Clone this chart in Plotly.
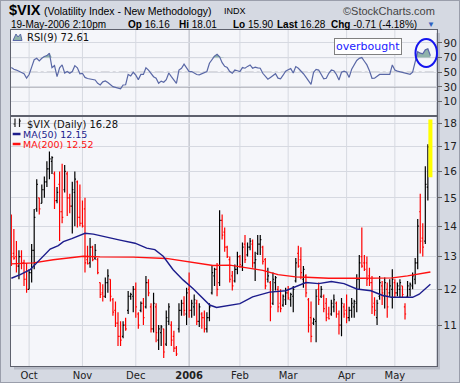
import numpy as np
import plotly.graph_objects as go

W, H = 460, 383
def px(v): return v / W
def py(v): return 1 - v / H

# ---------------- data ----------------
month_pos = [7, 28, 49, 70, 90, 109, 132, 151]
month_labels = ["Oct", "Nov", "Dec", "<b>2006</b>", "Feb", "Mar", "Apr", "May"]
price_ticks = [11, 12, 13, 14, 15, 16, 17, 18]
rsi_ticks = [10, 30, 50, 70, 90]

prior_close = 14.2
opens = [14.1, 13.1, 13.0, 12.7, 13.0, 12.8, 12.3, 12.0, 12.5, 13.2,
         14.6, 15.0, 14.8, 15.3, 15.6, 16.1, 16.4, 15.9, 14.9, 15.5,
         14.5, 15.3, 15.9, 15.0, 14.7, 15.2, 15.6, 14.3, 14.1, 14.6,
         12.9, 12.8, 13.3, 12.95, 12.9, 12.2, 11.9, 11.8, 12.2, 12.3,
         11.7, 11.4, 11.05, 10.7, 10.7, 11.0, 11.4, 11.8, 11.8, 12.0,
         11.3, 11.4, 11.6, 11.5, 12.2, 11.5, 10.9, 11.5, 10.6, 10.8,
         10.9, 10.5, 11.1, 11.0, 10.7, 10.4, 10.9, 11.4, 11.6, 11.3,
         12.0, 11.4, 11.5, 11.6, 11.1, 11.3, 11.2, 10.9, 11.2, 11.9,
         12.4, 12.6, 12.2, 14.2, 13.8, 13.3, 12.9, 12.4, 12.25, 12.6,
         13.0, 12.7, 13.4, 13.05, 13.3, 13.4, 12.8, 13.1, 13.4, 13.3,
         12.9, 12.3, 12.2, 11.6, 12.2, 12.0, 11.6, 11.55, 11.7, 11.9,
         11.7, 11.8, 12.25, 13.1, 12.9, 12.3, 12.4, 11.7, 11.2, 11.05,
         11.1, 12.0, 11.8, 11.8, 11.6, 11.3, 11.3, 11.5, 11.6, 11.3,
         11.0, 11.5, 11.4, 11.2, 11.4, 11.5, 11.6, 12.3, 13.0, 12.8,
         12.8, 12.4, 12.2, 11.6, 11.2, 11.8, 12.1, 11.8, 12.0, 11.9,
         12.0, 12.2, 11.9, 12.0, 12.1, 11.5, 11.8, 12.0, 12.1, 12.3,
         12.8, 14.5, 13.6, 13.5, 15.4, 16.16]
highs = [14.4, 13.9, 13.5, 13.2, 13.2, 12.9, 12.8, 12.6, 13.4, 14.6,
         15.7, 15.0, 15.5, 15.8, 16.4, 16.8, 16.6, 16.0, 15.4, 16.0,
         16.3, 16.25, 16.0, 15.15, 15.6, 16.0, 15.65, 15.5, 14.9, 15.0,
         13.35, 13.6, 13.35, 13.4, 12.95, 12.2, 12.15, 12.35, 12.6, 12.3,
         11.75, 11.65, 11.35, 11.1, 11.1, 11.2, 11.95, 11.9, 12.1, 12.2,
         11.35, 11.65, 11.75, 12.4, 12.3, 11.6, 11.9, 11.6, 11.0, 11.0,
         10.9, 11.4, 11.6, 11.1, 10.85, 10.45, 11.6, 11.7, 11.8, 12.05,
         12.5, 11.7, 11.85, 11.7, 11.6, 11.35, 11.4, 11.35, 11.6, 12.7,
         12.65, 12.8, 14.55, 14.4, 13.95, 13.35, 13.0, 12.55, 12.75, 13.15,
         13.05, 13.45, 13.7, 13.45, 13.6, 13.55, 13.15, 13.7, 13.7, 13.35,
         12.95, 12.65, 12.25, 12.5, 12.4, 12.1, 12.0, 11.85, 12.05, 12.1,
         11.9, 12.1, 12.95, 13.35, 13.3, 12.7, 12.45, 11.75, 11.65, 11.2,
         12.0, 12.2, 12.1, 11.85, 11.75, 11.5, 11.7, 11.85, 11.65, 11.4,
         11.75, 11.6, 11.85, 11.5, 11.75, 11.7, 12.45, 13.05, 13.95, 13.05,
         13.0, 12.65, 12.4, 11.77, 11.7, 12.4, 12.25, 12.35, 12.2, 12.3,
         12.6, 12.3, 12.2, 12.3, 12.1, 11.6, 12.25, 12.2, 12.5, 12.95,
         14.25, 15.15, 14.1, 16.2, 17.1, 18.01]
lows = [12.7, 12.9, 12.5, 12.3, 12.6, 12.1, 11.9, 12.0, 12.2, 12.6,
        14.5, 14.4, 14.8, 15.0, 15.4, 15.7, 15.9, 14.6, 14.8, 13.5,
        14.1, 15.2, 14.35, 14.45, 13.75, 14.0, 13.95, 14.0, 13.95, 12.5,
        12.75, 12.65, 12.85, 12.9, 12.45, 11.75, 11.65, 11.75, 11.9, 11.65,
        11.25, 10.95, 10.45, 10.45, 10.65, 10.85, 11.3, 11.7, 11.35, 11.2,
        10.9, 11.35, 11.0, 11.45, 11.8, 10.8, 10.8, 10.55, 10.35, 10.45,
        10.15, 10.45, 11.0, 10.45, 10.3, 10.2, 10.8, 11.25, 11.25, 11.0,
        11.2, 11.2, 11.25, 11.0, 10.95, 10.9, 10.8, 10.8, 11.1, 11.85,
        12.1, 11.8, 12.1, 13.55, 13.15, 12.95, 12.2, 11.97, 12.2, 12.45,
        12.65, 12.55, 12.8, 13.0, 13.2, 12.65, 12.25, 13.05, 13.05, 12.75,
        12.0, 12.2, 11.1, 11.55, 11.97, 11.35, 11.35, 11.5, 11.55, 11.7,
        11.5, 11.35, 12.2, 12.65, 12.3, 12.05, 11.77, 10.8, 10.55, 11.0,
        10.55, 11.55, 11.75, 11.35, 11.1, 11.15, 11.25, 11.35, 11.2, 10.75,
        10.7, 11.2, 11.05, 11.1, 11.2, 11.2, 11.35, 12.0, 12.65, 12.55,
        12.1, 12.1, 11.3, 11.25, 11.0, 11.7, 11.55, 11.45, 11.2, 11.8,
        11.45, 11.75, 11.8, 11.75, 11.77, 11.15, 11.75, 11.8, 12.0, 12.15,
        12.6, 13.1, 13.0, 13.4, 14.9, 15.90]
closes = [13.0, 12.95, 12.7, 13.0, 12.8, 12.3, 12.0, 12.5, 13.2, 14.3,
          15.5, 14.6, 15.3, 15.6, 16.1, 16.5, 16.55, 14.9, 15.2, 14.5,
          14.3, 16.0, 15.0, 14.7, 15.3, 15.7, 14.3, 14.1, 14.0, 12.8,
          12.78, 13.3, 12.9, 13.2, 12.5, 11.85, 11.8, 12.2, 12.4, 11.8,
          11.35, 11.05, 10.7, 10.6, 11.0, 10.9, 11.8, 11.85, 12.0, 11.5,
          11.0, 11.6, 11.2, 12.2, 11.9, 10.9, 11.6, 10.8, 10.9, 10.95,
          10.3, 11.2, 11.5, 10.6, 10.4, 10.25, 11.4, 11.6, 11.4, 11.9,
          11.4, 11.6, 11.7, 11.1, 11.5, 11.2, 10.9, 11.2, 11.5, 12.5,
          12.6, 12.0, 14.2, 13.7, 13.3, 13.0, 12.3, 12.1, 12.6, 13.0,
          12.75, 13.3, 12.9, 13.3, 13.5, 12.8, 12.9, 13.4, 13.55, 12.85,
          12.1, 12.4, 11.5, 12.3, 12.35, 11.5, 11.45, 11.8, 11.9, 11.75,
          11.85, 12.0, 12.8, 12.7, 12.5, 12.6, 11.9, 11.0, 10.7, 11.15,
          11.8, 11.7, 12.0, 11.45, 11.2, 11.17, 11.6, 11.7, 11.3, 11.0,
          11.6, 11.3, 11.2, 11.4, 11.6, 11.65, 12.3, 12.8, 12.7, 12.6,
          12.3, 12.2, 11.5, 11.4, 11.6, 12.2, 11.9, 12.2, 11.5, 12.1,
          12.3, 11.9, 12.1, 12.2, 11.85, 11.3, 12.1, 12.15, 12.4, 12.8,
          14.0, 13.5, 13.3, 15.5, 16.99, 16.28]

ma50_idx = [0, 3.5, 7.4, 10.7, 12.6, 15.3, 18.5, 20.5, 23.8, 27, 29, 32.3, 37.5,
            42.8, 48.7, 53.3, 56.5, 59.8, 63.7, 67.6, 71.6, 75.5, 78.1, 80.8, 86,
            90, 95, 101.7, 108, 113.5, 116, 121, 126, 131, 136, 141.6, 146,
            149.6, 158, 160.6, 165]
ma50_val = [12.33, 12.44, 12.59, 12.85, 13.01, 13.24, 13.35, 13.48, 13.58, 13.7,
            13.76, 13.73, 13.62, 13.53, 13.43, 13.27, 13.22, 13.01, 12.59, 12.28,
            12.02, 11.74, 11.55, 11.48, 11.54, 11.59, 11.78, 11.92, 11.96, 12.11,
            12.2, 12.17, 12.23, 12.17, 12.01, 11.96, 11.83, 11.77, 11.77, 11.86,
            12.15]
ma200_idx = [0, 8.7, 16.5, 28.3, 34.9, 48, 61, 69, 79.4, 86, 92, 99, 105, 112,
             116, 125, 138, 150, 156, 161, 165]
ma200_val = [12.77, 12.8, 12.9, 13.01, 12.99, 12.98, 12.94, 12.85, 12.72, 12.73,
             12.65, 12.57, 12.44, 12.37, 12.36, 12.33, 12.33, 12.34, 12.4, 12.46,
             12.52]

rsi = [56.4, 54, 53, 51.5, 50, 48, 42, 47, 57, 67,
       69, 65.5, 69, 71.5, 72.7, 75.9, 56.4, 59, 44, 56,
       60, 49, 51, 48.6, 51, 59, 56, 48, 48.6, 43,
       41.5, 40.5, 40, 39.5, 35, 32.7, 37, 38.2, 36, 33.6,
       30.5, 29.5, 28.5, 27.5, 32.7, 33, 47, 45, 50, 46,
       40, 47, 47, 56, 53, 48, 44, 41.8, 35, 38,
       36.4, 40, 49, 44, 40, 35, 53, 55.5, 61, 55,
       51, 51, 49, 47, 46.4, 48, 49, 51, 62.3, 67,
       72, 74.5, 71, 63, 58, 56.4, 51, 48.6, 53, 52,
       51, 56.4, 55.5, 58, 60, 55.5, 57, 56, 55.5, 48.6,
       45, 40.5, 43, 45, 48, 42, 41, 46, 51.5, 53.5,
       55, 49, 57.7, 55.5, 52, 48, 43.5, 38, 33.6, 50,
       54, 53, 46, 41, 41.8, 48.6, 53, 52, 47, 39.5,
       50, 51.5, 50, 43, 54, 61, 66, 69, 70, 65,
       60, 52, 41.8, 42, 45, 47, 47, 47, 46.4, 47,
       60, 53, 51.5, 50.5, 50, 48.6, 48, 47.3, 50, 63,
       78, 76, 75, 80.5, 82, 72.61]

# ---------------- figure ----------------
FONT = "DejaVu Sans"
HFONT = "Liberation Sans"
BLACK, RED = "#000000", "#ff0000"
RSI_COL = "#5a68a6"
FILL_COL = "#8fb3ab"
GRID = "#d6d9e1"
BORDER = "#5e616d"

idx = np.arange(len(closes))
c = np.array(closes)
prev = np.concatenate([[prior_close], c[:-1]])
up = c >= prev

fig = go.Figure()

# highlight of last bar
last = len(closes) - 1
hx = [last - 0.8, last + 0.8, last + 0.8, last - 0.8, last - 0.8]
hy = [lows[last] * 0.992, lows[last] * 0.992, highs[last] * 1.008,
      highs[last] * 1.008, lows[last] * 0.992]
fig.add_trace(go.Scatter(x=hx, y=hy, fill="toself", fillcolor="#ffff00",
                         line=dict(width=0), mode="lines", hoverinfo="skip",
                         showlegend=False, xaxis="x", yaxis="y"))

o, h, l = np.array(opens), np.array(highs), np.array(lows)
for mask, col in [(up, BLACK), (~up, RED)]:
    fig.add_trace(go.Ohlc(x=idx[mask], open=o[mask], high=h[mask], low=l[mask],
                          close=c[mask], tickwidth=0.45,
                          increasing=dict(line=dict(color=col, width=1.2)),
                          decreasing=dict(line=dict(color=col, width=1.2)),
                          hoverinfo="skip", showlegend=False,
                          xaxis="x", yaxis="y"))

fig.add_trace(go.Scatter(x=ma200_idx, y=ma200_val, mode="lines",
                         line=dict(color="#ff1010", width=1.4), hoverinfo="skip",
                         showlegend=False, xaxis="x", yaxis="y"))
fig.add_trace(go.Scatter(x=ma50_idx, y=ma50_val, mode="lines",
                         line=dict(color="#1c1c8c", width=1.4), hoverinfo="skip",
                         showlegend=False, xaxis="x", yaxis="y"))

# RSI panel
r = np.array(rsi)
fig.add_trace(go.Scatter(x=idx, y=np.full(len(r), 70.0), mode="lines",
                         line=dict(width=0), hoverinfo="skip", showlegend=False,
                         xaxis="x2", yaxis="y2"))
fig.add_trace(go.Scatter(x=idx, y=np.maximum(r, 70.0), mode="lines",
                         line=dict(width=0), fill="tonexty", fillcolor=FILL_COL,
                         hoverinfo="skip", showlegend=False,
                         xaxis="x2", yaxis="y2"))
fig.add_trace(go.Scatter(x=idx, y=r, mode="lines",
                         line=dict(color=RSI_COL, width=1.2), hoverinfo="skip",
                         showlegend=False, xaxis="x2", yaxis="y2"))

xdom = [px(10.7), px(436.5)]
xrange_ = [-0.25, 167.4]
axis_common = dict(showline=True, linecolor=BORDER, linewidth=1, mirror=True,
                   zeroline=False, automargin=False)

fig.update_layout(
    width=W, height=H, margin=dict(l=0, r=0, t=0, b=0, pad=0),
    paper_bgcolor="#d5d9e2", plot_bgcolor="#f5f6fa",
    showlegend=False,
    xaxis=dict(domain=xdom, range=xrange_, anchor="y", tickmode="array",
               tickvals=month_pos, ticktext=month_labels, ticks="",
               showgrid=False, rangeslider=dict(visible=False),
               tickfont=dict(family=FONT, size=10, color="#222"),
               **axis_common),
    xaxis2=dict(domain=xdom, range=xrange_, anchor="y2", matches="x",
                tickmode="array", tickvals=month_pos, showticklabels=False,
                ticks="", showgrid=False, rangeslider=dict(visible=False),
                **axis_common),
    yaxis=dict(domain=[py(366), py(116)], type="log",
               range=[0.998, 1.2628], side="right", tickmode="array",
               tickvals=price_ticks, ticktext=[str(t) for t in price_ticks],
               ticks="outside", ticklen=4, tickcolor="#666",
               showgrid=True, gridcolor=GRID, gridwidth=1,
               tickfont=dict(family=FONT, size=10.5, color="#222"),
               **axis_common),
    yaxis2=dict(domain=[py(116), py(30)], range=[-9.5, 107.5], side="right",
                tickmode="array", tickvals=rsi_ticks,
                ticktext=[str(t) for t in rsi_ticks],
                ticks="outside", ticklen=4, tickcolor="#666",
                showgrid=True, gridcolor=GRID, gridwidth=1,
                tickfont=dict(family=FONT, size=10.5, color="#222"),
                **axis_common),
)

shapes = []
# panel shadows
shapes.append(dict(type="rect", xref="paper", yref="paper", x0=px(436.5), x1=px(440),
                   y0=py(369), y1=py(33), fillcolor="#b7bbc6", line=dict(width=0),
                   layer="below"))
shapes.append(dict(type="rect", xref="paper", yref="paper", x0=px(14), x1=px(440),
                   y0=py(369.5), y1=py(366), fillcolor="#b7bbc6", line=dict(width=0),
                   layer="below"))
# outer border
shapes.append(dict(type="rect", xref="paper", yref="paper", x0=0, x1=1, y0=0, y1=1,
                   line=dict(color="#9a9eab", width=2), fillcolor="rgba(0,0,0,0)"))
# month gridlines (year darker)
for mp in month_pos:
    col = "#b0b3bd" if mp == 70 else GRID
    for yr in ["y", "y2"]:
        shapes.append(dict(type="line", xref="x", yref=f"{yr} domain", x0=mp, x1=mp,
                           y0=0, y1=1, line=dict(color=col, width=1),
                           layer="below"))
# RSI reference lines
for lvl, dash in [(70, "solid"), (30, "solid"), (50, "dashdot")]:
    shapes.append(dict(type="line", xref="x2 domain", yref="y2", x0=0, x1=1,
                       y0=lvl, y1=lvl, line=dict(color="#80828c", width=1, dash=dash),
                       layer="below"))
# overbought ellipse
shapes.append(dict(type="circle", xref="paper", yref="paper", x0=px(415.5),
                   x1=px(437), y0=py(67), y1=py(39),
                   line=dict(color="#1515ee", width=2)))
# legend markers
shapes.append(dict(type="line", xref="paper", yref="paper", x0=px(12.7), x1=px(20.5),
                   y0=py(134), y1=py(134), line=dict(color="#1c1c8c", width=2.5)))
shapes.append(dict(type="line", xref="paper", yref="paper", x0=px(12.7), x1=px(20.5),
                   y0=py(144), y1=py(144), line=dict(color="#ff1010", width=2.5)))
# OHLC icon
for xb, yt, yb, xt, ytk in [(15, 118.5, 127, 13.5, 124), (19.5, 118.5, 127, 21, 121)]:
    shapes.append(dict(type="line", xref="paper", yref="paper", x0=px(xb), x1=px(xb),
                       y0=py(yb), y1=py(yt), line=dict(color="#222", width=1.2)))
    shapes.append(dict(type="line", xref="paper", yref="paper", x0=px(xt), x1=px(xb),
                       y0=py(ytk), y1=py(ytk), line=dict(color="#222", width=1.2)))
# RSI icon (mountain)
pts = [(13, 40.5), (16, 34), (18, 37), (20.5, 34), (22, 40.5)]
path = "M " + " L ".join(f"{px(a):.5f},{py(b):.5f}" for a, b in pts) + " Z"
shapes.append(dict(type="path", xref="paper", yref="paper", path=path,
                   fillcolor=FILL_COL, line=dict(color=RSI_COL, width=1)))
fig.update_layout(shapes=shapes)

ann = []
def txt(x, y, s, size=11, color="#000", family=HFONT, anchor="left", **kw):
    ann.append(dict(x=px(x), y=py(y), xref="paper", yref="paper", text=s,
                    showarrow=False, xanchor=anchor, yanchor="middle",
                    font=dict(family=family, size=size, color=color), **kw))

txt(7, 10, "<b>$VIX</b>", size=14.5)
txt(42, 11, "(Volatility Index - New Methodology)", size=10.5)
txt(222, 11.5, "INDX", size=9)
txt(437, 11, "©StockCharts.com", size=11, color="#444", anchor="right")
txt(9, 24.5, "19-May-2006 2:10pm", size=10)
txt(126, 24.5, "<b>Op</b> 16.16", size=10)
txt(177, 24.5, "<b>Hi</b> 18.01", size=10)
txt(231, 24.5, "<b>Lo</b> 15.90", size=10)
txt(275, 24.5, "<b>Last</b> 16.28", size=10)
txt(329, 24.5, "<b>Chg</b> -0.71 (-4.18%)", size=10)
txt(425, 25, "▼", size=8, color="#3060c0")

txt(25, 37.5, "RSI(9) 72.61", size=10, family=FONT, color="#111")
txt(25, 124, "$VIX (Daily) 16.28", size=10, family=FONT, color="#111")
txt(21, 134.5, "MA(50) 12.15", size=9.5, family=FONT, color="#1c1c8c")
txt(21, 144.5, "MA(200) 12.52", size=9.5, family=FONT, color="#ff1010")

ann.append(dict(x=px(368), y=py(46), xref="paper", yref="paper", text="overbought",
                showarrow=False, xanchor="center", yanchor="middle",
                font=dict(family=FONT, size=11, color="#1a1aff"),
                bgcolor="#ffffff", bordercolor="#808080", borderwidth=1, borderpad=1))
fig.update_layout(annotations=ann)

fig.write_html("out.html",
               config={"displayModeBar": False, "staticPlot": True},
               post_script="document.body.style.margin='0';"
                           "document.body.style.overflow='hidden';")
